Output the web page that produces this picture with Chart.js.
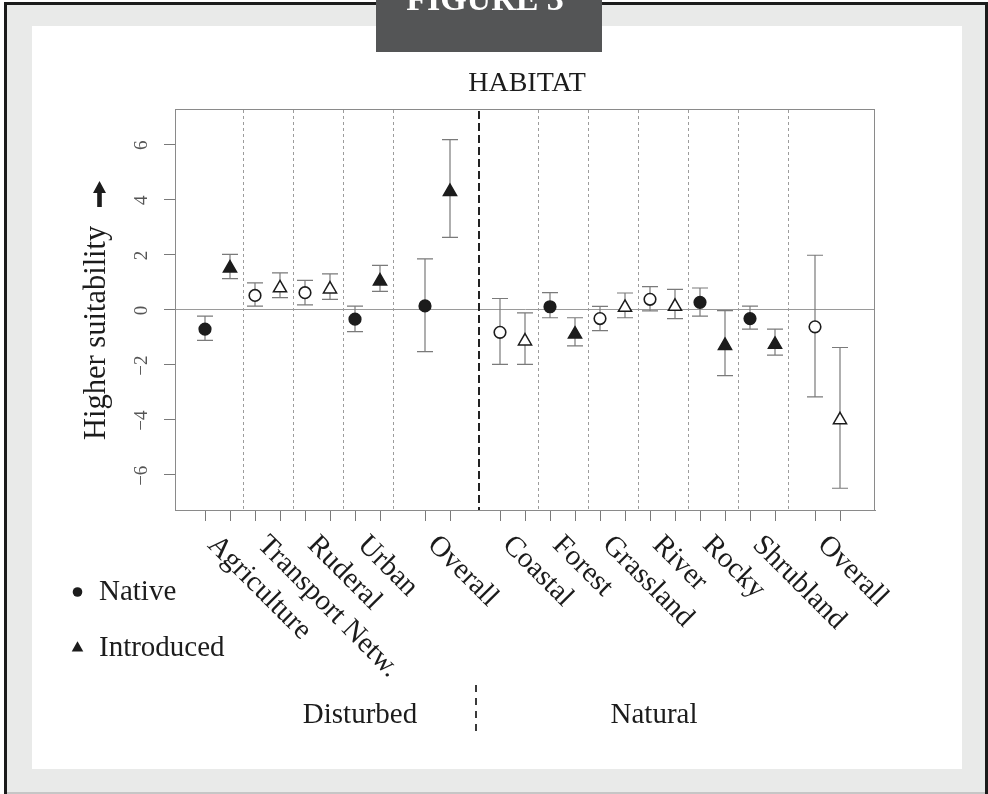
<!DOCTYPE html>
<html>
<head>
<meta charset="utf-8">
<script src="https://cdn.jsdelivr.net/npm/chart.js@4.4.1/dist/chart.umd.min.js"></script>
<style>
  html, body { margin: 0; padding: 0; background: #ffffff; }
  canvas { display: block; }
</style>
</head>
<body>
<canvas id="chart" width="988" height="794"></canvas>
<script>
// Habitat categories, left to right
const habitats = ['Agriculture', 'Transport Netw.', 'Ruderal', 'Urban', 'Overall',
                  'Coastal', 'Forest', 'Grassland', 'River', 'Rocky', 'Shrubland', 'Overall'];
const groupNames = ['Disturbed', 'Natural'];

// x positions of the native / introduced estimate for each habitat
const nativeX     = [1.2, 3.2, 5.2, 7.2, 10.0, 13, 15, 17, 19, 21, 23, 25.6];
const introducedX = [2.2, 4.2, 6.2, 8.2, 11.0, 14, 16, 18, 20, 22, 24, 26.6];

// Native species: estimate, lower and upper bound, significant (filled) or not
const nativeMean = [-0.71, 0.51, 0.61, -0.35, 0.13, -0.83, 0.10, -0.33, 0.37, 0.26, -0.33, -0.63];
const nativeLow  = [-1.12, 0.12, 0.17, -0.80, -1.53, -1.99, -0.30, -0.77, -0.05, -0.24, -0.71, -3.17];
const nativeHigh = [-0.24, 0.97, 1.06, 0.12, 1.84, 0.40, 0.61, 0.11, 0.83, 0.78, 0.12, 1.97];
const nativeSig  = [true, false, false, true, true, false, true, false, false, true, true, false];

// Introduced species
const introMean = [1.50, 0.78, 0.74, 1.03, 4.28, -1.15, -0.90, 0.07, 0.11, -1.31, -1.27, -4.01];
const introLow  = [1.12, 0.43, 0.37, 0.66, 2.62, -1.99, -1.32, -0.30, -0.33, -2.40, -1.66, -6.49];
const introHigh = [2.00, 1.33, 1.29, 1.60, 6.17, -0.12, -0.30, 0.60, 0.73, -0.04, -0.71, -1.38];
const introSig  = [true, false, false, true, true, false, true, false, false, true, true, false];

// y axis ticks and habitat / group separators (x units)
const yTicks = [-6, -4, -2, 0, 2, 4, 6];
const habitatDividers = [2.7, 4.7, 6.7, 8.7, 14.5, 16.5, 18.5, 20.5, 22.5, 24.5];
const groupDivider = 12.15;

const SERIF = '"Liberation Serif", "Times New Roman", "DejaVu Serif", serif';
const INK = '#1c1c1c';

// Page frame, panel and the heading tab
const framePlugin = {
  id: 'frame',
  beforeDraw(chart) {
    const ctx = chart.ctx;
    ctx.save();
    ctx.fillStyle = '#ffffff';
    ctx.fillRect(0, 0, 988, 794);
    ctx.fillStyle = '#e9eae9';
    ctx.fillRect(5, 3, 981, 791);
    ctx.fillStyle = '#1b1b1b';
    ctx.fillRect(4, 2, 3, 792);
    ctx.fillRect(985, 2, 3, 792);
    ctx.fillRect(4, 2, 984, 3);
    ctx.fillStyle = '#c6c6c6';
    ctx.fillRect(7, 792, 978, 2);
    ctx.fillStyle = '#ffffff';
    ctx.fillRect(32, 26, 930, 743);
    ctx.fillStyle = '#545556';
    ctx.fillRect(376, 0, 226, 52);
    ctx.fillStyle = '#ffffff';
    ctx.font = 'bold 34px ' + SERIF;
    ctx.textAlign = 'center';
    ctx.textBaseline = 'alphabetic';
    ctx.fillText('FIGURE 3', 485, 10);
    ctx.restore();
  }
};

// Plot box, separators and confidence intervals (under the markers)
const intervalPlugin = {
  id: 'intervals',
  beforeDatasetsDraw(chart) {
    const { ctx, chartArea: a, scales: { x, y } } = chart;
    ctx.save();
    ctx.strokeStyle = '#8a8a8a';
    ctx.lineWidth = 1;
    ctx.strokeRect(a.left + 0.5, a.top + 0.5, a.right - a.left - 1, a.bottom - a.top);

    ctx.strokeStyle = '#9c9c9c';
    ctx.setLineDash([3, 3]);
    habitatDividers.forEach(d => {
      const px = Math.round(x.getPixelForValue(d)) + 0.5;
      ctx.beginPath();
      ctx.moveTo(px, a.top + 1);
      ctx.lineTo(px, a.bottom);
      ctx.stroke();
    });

    ctx.strokeStyle = '#222222';
    ctx.lineWidth = 2;
    ctx.setLineDash([8, 4]);
    const gx = Math.round(x.getPixelForValue(groupDivider));
    ctx.beginPath();
    ctx.moveTo(gx, a.top + 2);
    ctx.lineTo(gx, a.bottom);
    ctx.stroke();

    ctx.setLineDash([]);
    ctx.strokeStyle = '#7a7a7a';
    ctx.lineWidth = 1.2;
    const cap = 8;
    const drawBar = (xv, lo, hi) => {
      const px = x.getPixelForValue(xv);
      const p1 = y.getPixelForValue(lo);
      const p2 = y.getPixelForValue(hi);
      ctx.beginPath();
      ctx.moveTo(px, p1); ctx.lineTo(px, p2);
      ctx.moveTo(px - cap, p1); ctx.lineTo(px + cap, p1);
      ctx.moveTo(px - cap, p2); ctx.lineTo(px + cap, p2);
      ctx.stroke();
    };
    nativeX.forEach((xv, i) => drawBar(xv, nativeLow[i], nativeHigh[i]));
    introducedX.forEach((xv, i) => drawBar(xv, introLow[i], introHigh[i]));
    ctx.restore();
  }
};

// Titles, axis labels, category labels and key
const labelPlugin = {
  id: 'labels',
  afterDraw(chart) {
    const { ctx, scales: { x, y } } = chart;
    ctx.save();

    // y tick labels, rotated
    ctx.fillStyle = '#555555';
    ctx.font = '19px ' + SERIF;
    ctx.textAlign = 'center';
    ctx.textBaseline = 'alphabetic';
    yTicks.forEach(v => {
      const py = y.getPixelForValue(v);
      ctx.save();
      ctx.translate(147, py + 1);
      ctx.rotate(-Math.PI / 2);
      ctx.fillText(v < 0 ? '\u2212' + Math.abs(v) : String(v), 0, 0);
      ctx.restore();
    });

    // y axis title with arrow
    ctx.fillStyle = INK;
    ctx.font = '30.5px ' + SERIF;
    ctx.save();
    ctx.translate(105, 440);
    ctx.rotate(-Math.PI / 2);
    ctx.textAlign = 'left';
    ctx.fillText('Higher suitability', 0, 0);
    ctx.restore();
    ctx.beginPath();
    ctx.moveTo(99.5, 181);
    ctx.lineTo(106, 193);
    ctx.lineTo(101.8, 193);
    ctx.lineTo(101.8, 207);
    ctx.lineTo(97.2, 207);
    ctx.lineTo(97.2, 193);
    ctx.lineTo(93, 193);
    ctx.closePath();
    ctx.fill();

    // main title
    ctx.font = '28px ' + SERIF;
    ctx.textAlign = 'center';
    ctx.fillText('HABITAT', 527, 91);

    // habitat labels, slanted
    ctx.font = '29px ' + SERIF;
    ctx.textAlign = 'left';
    habitats.forEach((name, i) => {
      const px = x.getPixelForValue((nativeX[i] + introducedX[i]) / 2);
      ctx.save();
      ctx.translate(px - 11, 546);
      ctx.rotate(Math.PI / 4);
      ctx.fillText(name, 0, 0);
      ctx.restore();
    });

    // group labels and their separator
    ctx.textAlign = 'center';
    ctx.fillText(groupNames[0], 360, 723);
    ctx.fillText(groupNames[1], 654, 723);
    ctx.strokeStyle = '#3a3a3a';
    ctx.lineWidth = 2;
    ctx.setLineDash([7, 6]);
    ctx.beginPath();
    ctx.moveTo(476, 685);
    ctx.lineTo(476, 737);
    ctx.stroke();
    ctx.setLineDash([]);

    // key
    ctx.textAlign = 'left';
    ctx.fillText(chart.data.datasets[0].label, 99, 600);
    ctx.fillText(chart.data.datasets[1].label, 99, 656);
    ctx.beginPath();
    ctx.arc(77.5, 592, 4.8, 0, Math.PI * 2);
    ctx.fill();
    ctx.beginPath();
    ctx.moveTo(77.5, 641.3);
    ctx.lineTo(83.3, 651.4);
    ctx.lineTo(71.7, 651.4);
    ctx.closePath();
    ctx.fill();

    ctx.restore();
  }
};

const allX = nativeX.concat(introducedX).sort((a, b) => a - b);

new Chart(document.getElementById('chart'), {
  type: 'scatter',
  data: {
    datasets: [
      {
        label: 'Native',
        data: nativeX.map((xv, i) => ({ x: xv, y: nativeMean[i] })),
        pointStyle: 'circle',
        pointRadius: 5.8,
        borderWidth: 1.6,
        borderColor: INK,
        backgroundColor: nativeSig.map(s => (s ? INK : '#ffffff'))
      },
      {
        label: 'Introduced',
        data: introducedX.map((xv, i) => ({ x: xv, y: introMean[i] })),
        pointStyle: 'triangle',
        pointRadius: 7.6,
        borderWidth: 1.5,
        borderColor: INK,
        backgroundColor: introSig.map(s => (s ? INK : '#ffffff'))
      }
    ]
  },
  options: {
    responsive: false,
    animation: false,
    devicePixelRatio: 1,
    events: [],
    layout: { autoPadding: false, padding: { left: 175, right: 113, top: 109, bottom: 284 } },
    plugins: { legend: { display: false }, tooltip: { enabled: false }, title: { display: false } },
    scales: {
      x: {
        type: 'linear',
        min: 0,
        max: 28,
        afterBuildTicks: s => { s.ticks = allX.map(v => ({ value: v })); },
        afterFit: s => { s.height = 0; },
        ticks: { display: false, autoSkip: false },
        grid: { drawOnChartArea: false, drawTicks: true, tickLength: 11, tickColor: '#7a7a7a', tickWidth: 1 },
        border: { display: true, color: '#8a8a8a', width: 1 }
      },
      y: {
        type: 'linear',
        min: -7.28,
        max: 7.28,
        afterBuildTicks: s => { s.ticks = yTicks.map(v => ({ value: v })); },
        afterFit: s => { s.width = 0; },
        ticks: { display: false },
        grid: {
          drawOnChartArea: true,
          drawTicks: true,
          tickLength: 11,
          tickColor: '#7a7a7a',
          color: c => (c.tick && c.tick.value === 0 ? '#9a9a9a' : 'rgba(0,0,0,0)')
        },
        border: { display: true, color: '#8a8a8a', width: 1 }
      }
    }
  },
  plugins: [framePlugin, intervalPlugin, labelPlugin]
});
</script>
</body>
</html>
